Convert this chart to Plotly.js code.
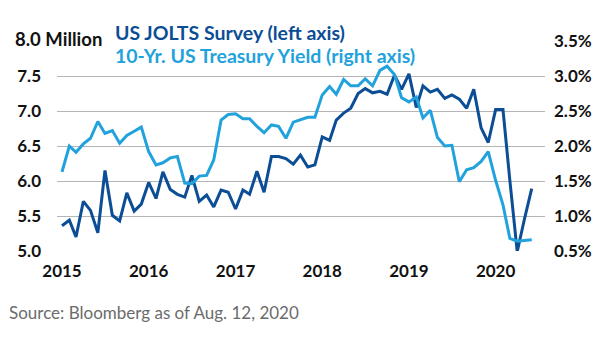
<!DOCTYPE html>
<html>
<head>
<meta charset="utf-8">
<script src="https://cdn.plot.ly/plotly-3.0.1.min.js"></script>
<style>
html,body{margin:0;padding:0;background:#fff;}
#chart{width:605px;height:341px;}
</style>
</head>
<body>
<div id="chart"></div>
<script>
// Monthly data, Jan 2015 - Jun 2020
const startYear = 2015;
const joltsMillions = [
  5.36, 5.44, 5.20, 5.71, 5.58, 5.26, 6.15, 5.51, 5.43, 5.83, 5.57, 5.67,
  5.98, 5.75, 6.13, 5.88, 5.81, 5.77, 6.08, 5.71, 5.80, 5.63, 5.87, 5.84,
  5.60, 5.87, 5.81, 6.14, 5.84, 6.35, 6.35, 6.32, 6.24, 6.37, 6.20, 6.23,
  6.63, 6.58, 6.87, 6.97, 7.04, 7.25, 7.32, 7.26, 7.28, 7.24, 7.51, 7.31,
  7.53, 7.05, 7.36, 7.27, 7.31, 7.18, 7.23, 7.17, 7.04, 7.31, 6.76, 6.55,
  7.02, 7.02, 6.01, 4.99, 5.45, 5.89
];
const treasuryYield = [
  1.63, 2.00, 1.91, 2.03, 2.11, 2.35, 2.18, 2.22, 2.04, 2.15, 2.21, 2.27,
  1.92, 1.73, 1.76, 1.83, 1.85, 1.47, 1.46, 1.57, 1.58, 1.80, 2.37, 2.45,
  2.46, 2.39, 2.39, 2.28, 2.19, 2.30, 2.28, 2.11, 2.34, 2.37, 2.41, 2.41,
  2.73, 2.85, 2.74, 2.95, 2.86, 2.86, 2.96, 2.86, 3.08, 3.14, 3.02, 2.69,
  2.63, 2.70, 2.40, 2.51, 2.12, 2.00, 2.01, 1.49, 1.66, 1.69, 1.78, 1.92,
  1.51, 1.16, 0.68, 0.64, 0.65, 0.66
];
const xTickVals = ["2015-01-01","2016-01-01","2017-01-01","2018-01-01","2019-01-01","2020-01-01"];
const xTickText = ["2015","2016","2017","2018","2019","2020"];
const leftTickVals = [5.0, 5.5, 6.0, 6.5, 7.0, 7.5, 8.0];
const leftTickText = ["5.0", "5.5", "6.0", "6.5", "7.0", "7.5", ""];
const rightTickVals = [0.5, 1.0, 1.5, 2.0, 2.5, 3.0, 3.5];
const rightTickText = ["0.5%", "1.0%", "1.5%", "2.0%", "2.5%", "3.0%", "3.5%"];
const titleLine1 = "US JOLTS Survey (left axis)";
const titleLine2 = "10-Yr. US Treasury Yield (right axis)";
const sourceText = "Source: Bloomberg as of Aug. 12, 2020";

const months = joltsMillions.map((_, i) => {
  const y = startYear + Math.floor(i / 12);
  const m = (i % 12) + 1;
  return y + "-" + (m < 10 ? "0" + m : m) + "-01";
});

const DARK = "#0b4e95";
const LIGHT = "#22a2dc";
const FONT = "Lato, 'Open Sans', sans-serif";

const traces = [
  {
    x: months, y: treasuryYield, yaxis: "y2", type: "scatter", mode: "lines",
    line: {color: LIGHT, width: 3}, hoverinfo: "skip"
  },
  {
    x: months, y: joltsMillions, yaxis: "y", type: "scatter", mode: "lines",
    line: {color: DARK, width: 3}, hoverinfo: "skip"
  }
];

const layout = {
  width: 605, height: 341,
  margin: {l: 57, r: 60, t: 41, b: 90, pad: 0},
  paper_bgcolor: "#fff", plot_bgcolor: "#fff",
  showlegend: false,
  font: {family: FONT, color: "#111"},
  xaxis: {
    type: "date",
    range: ["2014-12-11", "2020-07-27"],
    tickvals: xTickVals, ticktext: xTickText,
    showgrid: false, zeroline: false, showline: false,
    ticks: "", ticklabelstandoff: 8,
    tickfont: {family: FONT, size: 17, color: "#111", weight: "bold"}
  },
  yaxis: {
    range: [5, 8],
    tickvals: leftTickVals, ticktext: leftTickText,
    showgrid: true, gridcolor: "#b5b5b5", gridwidth: 1,
    zeroline: false, showline: false, ticks: "",
    ticklabelstandoff: 15,
    tickfont: {family: FONT, size: 17, color: "#111", weight: "bold"}
  },
  yaxis2: {
    range: [0.5, 3.5], overlaying: "y", side: "right",
    tickvals: rightTickVals, ticktext: rightTickText,
    showgrid: false, zeroline: false, showline: false, ticks: "",
    ticklabelstandoff: 8,
    tickfont: {family: FONT, size: 17, color: "#111", weight: "bold"}
  },
  annotations: [
    {
      xref: "paper", yref: "paper", x: -0.0902, y: 1.01,
      xanchor: "left", yanchor: "middle", showarrow: false,
      text: "8.0 Million",
      font: {family: FONT, size: 18.5, color: "#111", weight: "bold"}
    },
    {
      xref: "paper", yref: "paper", x: 0.1148, y: 1.040,
      xanchor: "left", yanchor: "middle", showarrow: false,
      text: titleLine1,
      font: {family: FONT, size: 19.5, color: DARK, weight: "bold"}
    },
    {
      xref: "paper", yref: "paper", x: 0.1148, y: 0.933,
      xanchor: "left", yanchor: "middle", showarrow: false,
      text: titleLine2,
      font: {family: FONT, size: 19.5, color: LIGHT, weight: "bold"}
    },
    {
      xref: "paper", yref: "paper", x: -0.103, y: -0.295,
      xanchor: "left", yanchor: "middle", showarrow: false,
      text: sourceText,
      font: {family: FONT, size: 17, color: "#6b6b6b"}
    }
  ]
};

Plotly.newPlot("chart", traces, layout, {staticPlot: true, displayModeBar: false});
</script>
</body>
</html>
